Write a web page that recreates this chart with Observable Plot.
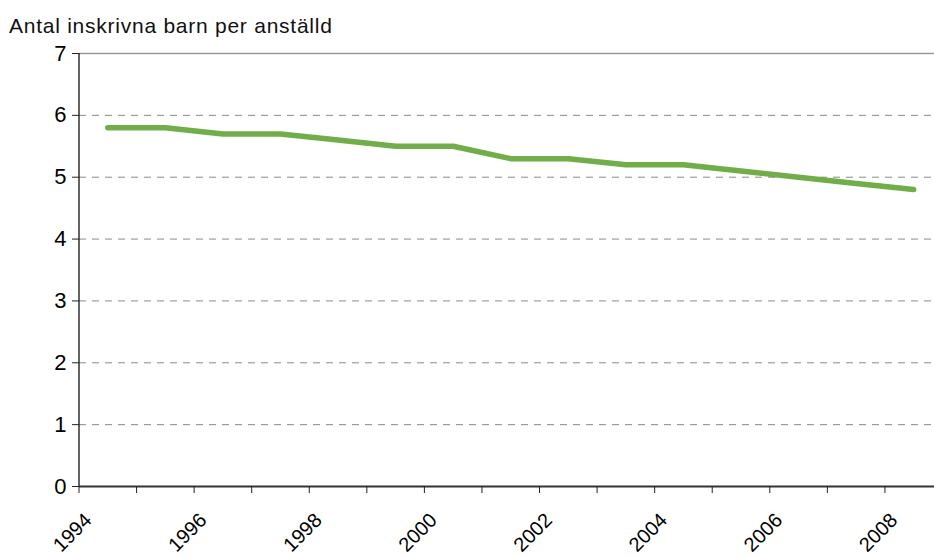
<!DOCTYPE html>
<html>
<head>
<meta charset="utf-8">
<script src="https://cdn.jsdelivr.net/npm/d3@7"></script>
<script src="https://cdn.jsdelivr.net/npm/@observablehq/plot@0.6"></script>
<style>
  html, body { margin: 0; padding: 0; background: #fff; overflow: hidden; }
  body { font-family: "Liberation Sans", Arial, sans-serif; color: #000; width: 934px; height: 558px; }
  #title { height: 25px; padding: 15px 0 0 9px; font-size: 21px; line-height: 21px; letter-spacing: 0.75px; white-space: nowrap; color: #111; }
  #chart svg { overflow: visible; display: block; }
</style>
</head>
<body>
<div id="title"></div>
<div id="chart"></div>
<script>
const titleText = "Antal inskrivna barn per anställd";
const years = [1994, 1995, 1996, 1997, 1998, 1999, 2000, 2001, 2002, 2003, 2004, 2005, 2006, 2007, 2008];
const values = [5.8, 5.8, 5.7, 5.7, 5.6, 5.5, 5.5, 5.3, 5.3, 5.2, 5.2, 5.1, 5.0, 4.9, 4.8];
const yTicks = [0, 1, 2, 3, 4, 5, 6, 7];
const gridValues = [1, 2, 3, 4, 5, 6];
const xLabels = [1994, 1996, 1998, 2000, 2002, 2004, 2006, 2008];

document.getElementById("title").textContent = titleText;

const data = years.map((year, i) => ({year, value: values[i]}));
const edges = [...years.map(y => y - 0.5), years[years.length - 1] + 0.5];

const chart = Plot.plot({
  width: 934,
  height: 518,
  marginTop: 13,
  marginBottom: 72,
  marginLeft: 79,
  marginRight: 0,
  style: {fontFamily: "Liberation Sans, Arial, sans-serif", color: "#000", background: "transparent", overflow: "visible"},
  x: {type: "linear", domain: [edges[0], edges[edges.length - 1]], range: [78.5, 942]},
  y: {domain: [0, 7]},
  marks: [
    Plot.ruleY(gridValues, {stroke: "#8a8a8a", strokeWidth: 1, strokeDasharray: "7,6"}),
    Plot.ruleY([7], {stroke: "#9a9a9a", strokeWidth: 1.6}),
    Plot.line(data, {x: "year", y: "value", stroke: "#71ad48", strokeWidth: 5.5, strokeLinecap: "round", strokeLinejoin: "round"}),
    Plot.ruleX([edges[0]], {stroke: "#222", strokeWidth: 1.4}),
    Plot.ruleY([0], {stroke: "#333", strokeWidth: 2}),
    Plot.axisY({ticks: yTicks, tickFormat: d => String(d), tickSize: 7, tickPadding: 6, fontSize: 22, stroke: "#222", fill: "#000", label: null}),
    Plot.axisX({ticks: edges, tickSize: 7, tickFormat: () => "", stroke: "#222", label: null}),
    Plot.text(xLabels, {x: d => d, frameAnchor: "bottom", text: d => String(d), rotate: -45, textAnchor: "end", dx: -15, dy: 35, fontSize: 20, fill: "#000"})
  ]
});
document.getElementById("chart").appendChild(chart);
</script>
</body>
</html>
